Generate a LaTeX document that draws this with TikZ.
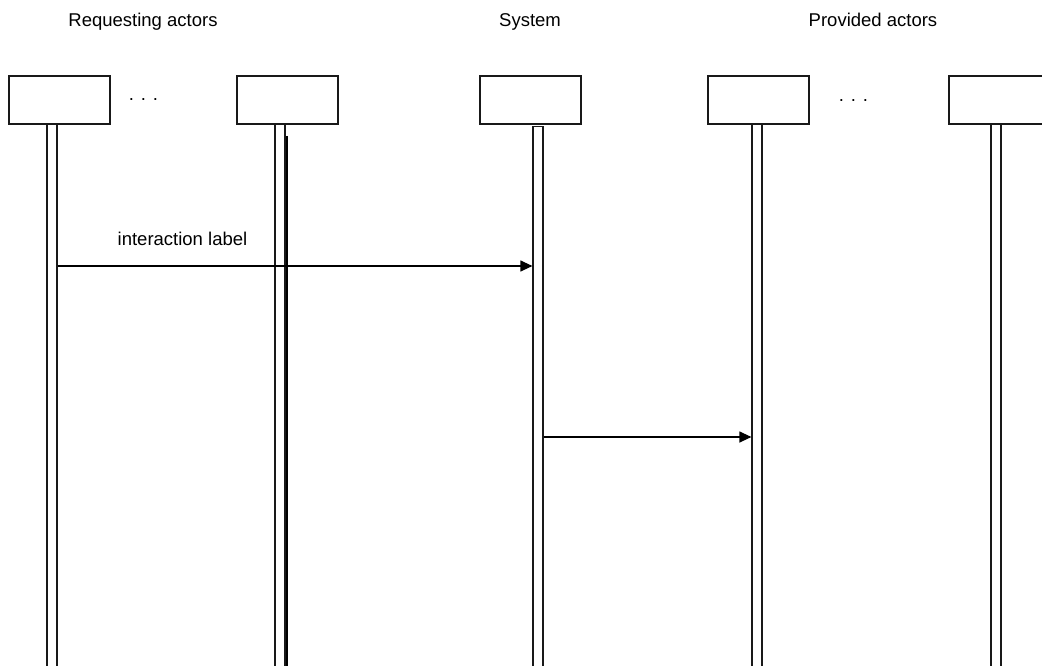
\documentclass[tikz,border=0pt]{standalone}
\usepackage{fontspec}
\setmainfont{Liberation Sans}
\usetikzlibrary{arrows.meta}

\begin{document}
\begin{tikzpicture}[
x=1pt, y=-1pt,
font=\fontsize{18.5}{22}\selectfont,
actor/.style={rectangle, draw=black!90, line width=1.4pt, minimum width=101pt, minimum height=48pt, inner sep=0pt},
lifeline/.style={rectangle, draw=black!90, line width=1.2pt, minimum width=10pt, anchor=north, inner sep=0pt},
msg/.style={-{Triangle[length=12pt,width=11pt]}, line width=1.2pt},
title/.style={anchor=base, inner sep=0pt}
]
\useasboundingbox (0,0) rectangle (1042,666);
%Titles
\node[title]    (treq)   at (143,27)    {Requesting actors};
\node[title]    (tsys)   at (530,27)    {System};
\node[title]    (tprov)  at (873,27)    {Provided actors};
%Nodes
\node[actor]    (a1)     at (59.5,100)  {};
\node[actor]    (a2)     at (287.5,100) {};
\node[actor]    (sys)    at (530.5,100) {};
\node[actor]    (p1)     at (758.5,100) {};
\node[actor]    (p2)     at (999.5,100) {};
\node[title]    (dots1)  at (143.5,101) {. . .};
\node[title]    (dots2)  at (853.5,102) {. . .};
%Lifelines
\node[lifeline, minimum height=546pt] (la1)  at (52,124)  {};
\node[lifeline, minimum height=546pt] (la2)  at (280,124) {};
\node[lifeline, minimum height=544pt] (lsys) at (538,126) {};
\node[lifeline, minimum height=546pt] (lp1)  at (757,124) {};
\node[lifeline, minimum height=546pt] (lp2)  at (996,124) {};
\coordinate (shadow) at ([xshift=1pt]la2.north east);
\draw[line width=1.8pt] (shadow) ++(0,12) -- ([xshift=1pt]la2.south east);
%Lines
\coordinate (y1) at (0,266);
\coordinate (y2) at (0,437);
\draw[msg] (la1.east |- y1) -- (lsys.west |- y1) node [pos=0.263, above=21pt, inner sep=0pt, anchor=base] (lbl) {interaction label};
\draw[msg] (lsys.east |- y2) -- (lp1.west |- y2);
\end{tikzpicture}
\end{document}
